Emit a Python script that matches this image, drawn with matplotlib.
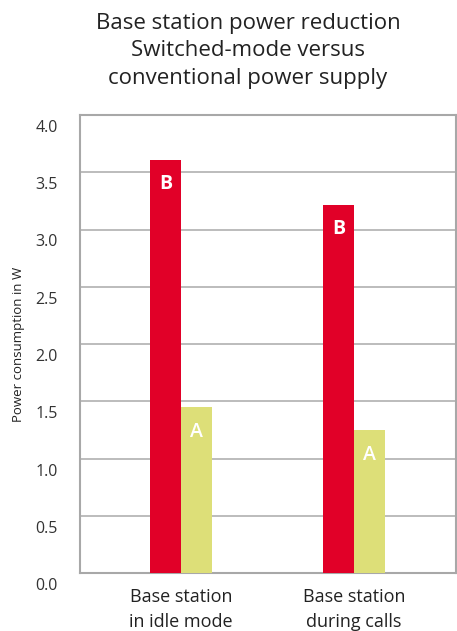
import matplotlib.pyplot as plt
import numpy as np
from matplotlib.transforms import ScaledTranslation

plt.rcParams['font.family'] = ['Open Sans', 'DejaVu Sans']

categories = ["Base station\nin idle mode", "Base station\nduring calls"]
conventional_b = [3.61, 3.21]
switched_a = [1.45, 1.25]
y_ticks = [0.0, 0.5, 1.0, 1.5, 2.0, 2.5, 3.0, 3.5, 4.0]

red = "#E10028"
yellow = "#DDDF78"

fig = plt.figure(figsize=(4.57, 6.31), dpi=100)
ax = fig.add_axes([80/457, 1-573/631, 376/457, 458/631])

x = np.arange(len(categories))
w = 0.179
bars_b = ax.bar(x - w/2, conventional_b, w, color=red, zorder=3)
bars_a = ax.bar(x + w/2, switched_a, w, color=yellow, zorder=3)

for r in bars_b:
    ax.annotate("B", (r.get_x() + r.get_width()/2, r.get_height()),
                xytext=(0, -24), textcoords="offset pixels",
                ha="center", va="center", color="white", fontsize=14, fontweight="bold")
for r in bars_a:
    ax.annotate("A", (r.get_x() + r.get_width()/2, r.get_height()),
                xytext=(0, -25), textcoords="offset pixels",
                ha="center", va="center", color="white", fontsize=14, fontweight="semibold")

ax.set_xlim(-0.585, 1.59)
ax.set_ylim(0, 4.0)
ax.set_yticks(y_ticks)
ax.set_yticklabels([f"{v:.1f}" for v in y_ticks])
ax.set_xticks(x)
ax.set_xticklabels(categories, fontsize=13, color="#222222", linespacing=1.45)
ax.tick_params(axis="y", length=0, pad=16, labelsize=11.5, labelcolor="#333333")
ax.tick_params(axis="x", length=0, pad=11)
# tick labels sit a bit below their gridlines in the original
for lab in ax.get_yticklabels():
    lab.set_transform(lab.get_transform() + ScaledTranslation(0, -0.11, fig.dpi_scale_trans))
ax.yaxis.grid(True, color="#b0b0b0", linewidth=1.2, zorder=0)
for s in ax.spines.values():
    s.set_color("#a8a8a8")
    s.set_linewidth(1.5)
ax.set_ylabel("Power consumption in W", fontsize=9.5, color="#222222")
ax.yaxis.set_label_coords(-55/376, 0.5)

fig.text(248/457, 1-51/631, "Base station power reduction\nSwitched-mode versus\nconventional power supply",
         ha="center", va="center", fontsize=16, color="#222222", linespacing=1.42)

fig.savefig("out.png", dpi=100)
